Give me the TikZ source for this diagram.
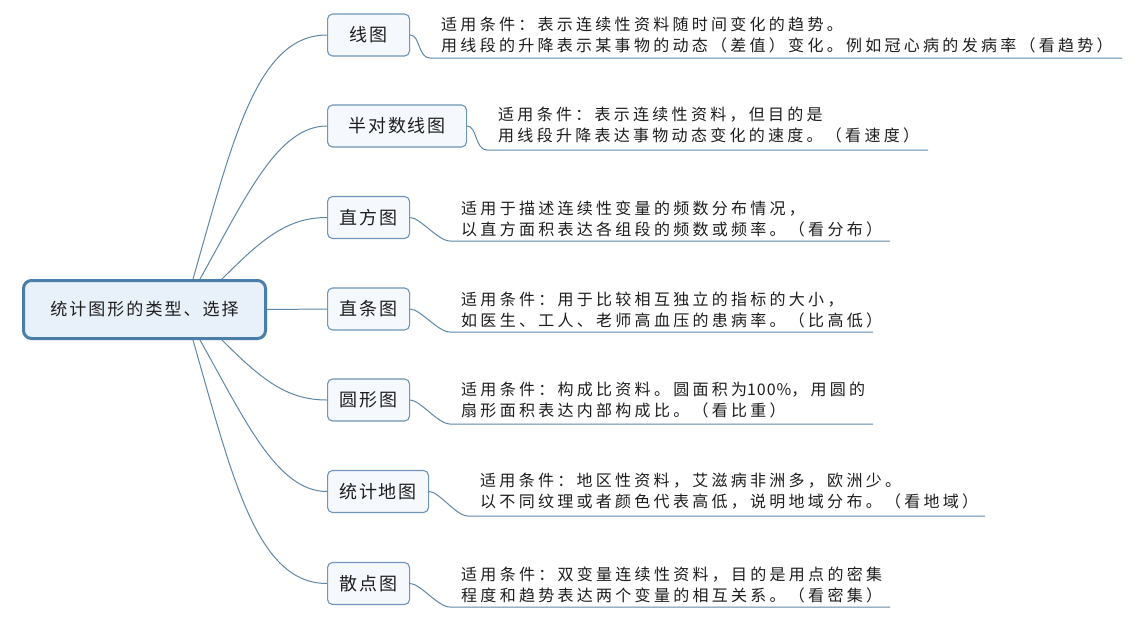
\documentclass[tikz,border=0pt]{standalone}
\usepackage{fontspec}
\newfontfamily\cjktext[LetterSpace=20.5]{Noto Sans CJK SC}
\newfontfamily\cjkbox[LetterSpace=10]{Noto Sans CJK SC}
\newfontfamily\cjkroot[LetterSpace=12]{Noto Sans CJK SC}
\definecolor{linec}{HTML}{5F87A8}
\definecolor{boxline}{HTML}{6F95B8}
\definecolor{boxfill}{HTML}{F5F8FC}
\definecolor{rootline}{HTML}{4A7EA8}
\definecolor{rootfill}{HTML}{E8F0F9}
\definecolor{txt}{HTML}{1E1E1E}
\tikzset{
  rootbox/.style={draw=rootline, line width=3pt, fill=rootfill, rounded corners=8pt,
    minimum width=242pt, minimum height=58pt, inner sep=0pt, text=txt,
    font=\fontsize{17}{20}\selectfont\cjkroot},
  topicbox/.style={draw=boxline, line width=1.1pt, fill=boxfill, rounded corners=5pt,
    minimum height=42pt, inner sep=0pt, anchor=west, text=txt,
    font=\fontsize{18}{20}\selectfont\cjkbox},
  desc/.style={anchor=west, align=left, inner sep=0pt, text=txt,
    font=\fontsize{16}{21}\selectfont\cjktext},
  conn/.style={draw=linec, line width=1pt},
}
\begin{document}
\begin{tikzpicture}[x=1pt,y=-1pt]
\useasboundingbox[fill=white] (0,0) rectangle (1140,619);

\node[rootbox] (root) at (144.5,309.5) {统计图形的类型、选择};

\node[topicbox, minimum width=82pt]  (b1) at (327,35)    {线图};
\node[topicbox, minimum width=139pt] (b2) at (327,126)   {半对数线图};
\node[topicbox, minimum width=82pt]  (b3) at (327,217.5) {直方图};
\node[topicbox, minimum width=82pt]  (b4) at (327,309)   {直条图};
\node[topicbox, minimum width=82pt]  (b5) at (327,400)   {圆形图};
\node[topicbox, minimum width=101pt] (b6) at (327,491.5) {统计地图};
\node[topicbox, minimum width=82pt]  (b7) at (327,583.5) {散点图};

\node[desc] (t1) at (441,34.5)  {适用条件：表示连续性资料随时间变化的趋势。\\用线段的升降表示某事物的动态（差值）变化。例如冠心病的发病率（看趋势）};
\node[desc] (t2) at (498,125.5) {适用条件：表示连续性资料，但目的是\\用线段升降表达事物动态变化的速度。（看速度）};
\node[desc] (t3) at (461,218.5) {适用于描述连续性变量的频数分布情况，\\以直方面积表达各组段的频数或频率。（看分布）};
\node[desc] (t4) at (461,309.5) {适用条件：用于比较相互独立的指标的大小，\\如医生、工人、老师高血压的患病率。（比高低）};
\node[desc] (t5) at (461,400.5) {适用条件：构成比资料。圆面积为{\addfontfeature{LetterSpace=6}100\%}，用圆的\\扇形面积表达内部构成比。（看比重）};
\node[desc] (t6) at (480,491.5) {适用条件：地区性资料，艾滋病非洲多，欧洲少。\\以不同纹理或者颜色代表高低，说明地域分布。（看地域）};
\node[desc] (t7) at (461,584.5) {适用条件：双变量连续性资料，目的是用点的密集\\程度和趋势表达两个变量的相互关系。（看密集）};

% underline coordinates
\coordinate (u1s) at (430,58);  \coordinate (u1e) at (1122,58);
\coordinate (u2s) at (487,150); \coordinate (u2e) at (928,150);
\coordinate (u3s) at (450,241); \coordinate (u3e) at (890,241);
\coordinate (u4s) at (450,332); \coordinate (u4e) at (873,332);
\coordinate (u5s) at (450,424); \coordinate (u5e) at (873,424);
\coordinate (u6s) at (468,516); \coordinate (u6e) at (985,516);
\coordinate (u7s) at (450,607); \coordinate (u7e) at (890,607);

% start points on root
\coordinate (s1) at ([xshift=48.5pt]root.north);
\coordinate (s2) at ([xshift=55.5pt]root.north);
\coordinate (s3) at ([xshift=77.5pt]root.north);
\coordinate (s5) at ([xshift=77.5pt]root.south);
\coordinate (s6) at ([xshift=55.5pt]root.south);
\coordinate (s7) at ([xshift=48.5pt]root.south);

\draw[conn] (s1) .. controls +(40,-140) and +(-70,0) .. (b1.west);
\draw[conn] (s2) .. controls +(45,-80) and +(-50,0) .. (b2.west);
\draw[conn] (s3) .. controls +(40,-40) and +(-40,0) .. (b3.west);
\draw[conn] (root.east) -- (b4.west);
\draw[conn] (s5) .. controls +(40,40) and +(-40,0) .. (b5.west);
\draw[conn] (s6) .. controls +(45,80) and +(-50,0) .. (b6.west);
\draw[conn] (s7) .. controls +(40,140) and +(-70,0) .. (b7.west);

\draw[conn] (b1.east) .. controls +(10,0) and +(-12,0) .. (u1s) -- (u1e);
\draw[conn] (b2.east) .. controls +(10,0) and +(-12,0) .. (u2s) -- (u2e);
\draw[conn] (b3.east) .. controls +(10,0) and +(-12,0) .. (u3s) -- (u3e);
\draw[conn] (b4.east) .. controls +(10,0) and +(-12,0) .. (u4s) -- (u4e);
\draw[conn] (b5.east) .. controls +(10,0) and +(-12,0) .. (u5s) -- (u5e);
\draw[conn] (b6.east) .. controls +(10,0) and +(-12,0) .. (u6s) -- (u6e);
\draw[conn] (b7.east) .. controls +(10,0) and +(-12,0) .. (u7s) -- (u7e);
\end{tikzpicture}
\end{document}
